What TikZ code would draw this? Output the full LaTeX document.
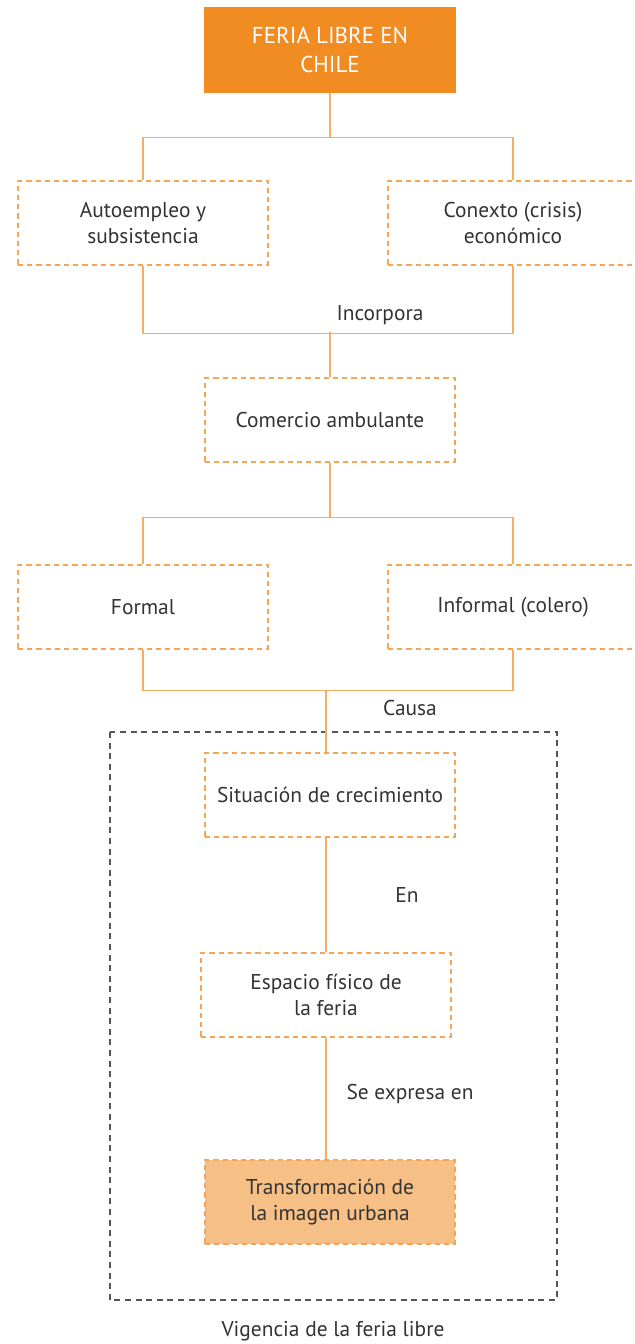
\documentclass[tikz,border=0pt]{standalone}
\usepackage{fontspec}
\setmainfont{PT Sans}
\definecolor{feriaorange}{HTML}{F18C22}
\definecolor{lineorange}{HTML}{F7AE62}
\definecolor{boxorange}{HTML}{F5A556}
\definecolor{softorange}{HTML}{F6BF86}
\definecolor{textgrey}{HTML}{333333}
\definecolor{framegrey}{HTML}{555555}

\begin{document}
\begin{tikzpicture}[x=0.5pt, y=-0.5pt,
  box/.style={draw=boxorange, dash pattern=on 2.6pt off 2pt, line width=0.7pt,
    minimum width=125pt, minimum height=42pt, inner sep=0pt, align=center,
    text=textgrey, font=\fontsize{10.7}{13}\selectfont},
  link/.style={draw=lineorange, line width=0.75pt},
  tag/.style={text=textgrey, font=\fontsize{10.7}{13}\selectfont}]
\useasboundingbox (0,0) rectangle (634,1344);
\draw[framegrey, line width=1.4pt, dash pattern=on 3pt off 2.3pt] (110,732) rectangle (557,1300);
\node[box, solid, draw=feriaorange, fill=feriaorange, text=white,
  font=\fontsize{11.5}{14.5}\selectfont] (feria) at (330,50) {FERIA LIBRE EN\\CHILE};
\node[box] (auto) at (143,223) {Autoempleo y\\subsistencia};
\node[box] (conexto) at (513,223) {Conexto (crisis)\\económico};
\node[box] (comercio) at (330,420) {Comercio ambulante};
\node[box] (formal) at (143,607) {Formal};
\node[box] (informal) at (513,607) {Informal (colero)};
\node[box] (situacion) at (330,795) {Situación de crecimiento};
\node[box] (espacio) at (326,995) {Espacio físico de\\la feria};
\node[box, fill=softorange] (transf) at (330,1202) {Transformación de\\la imagen urbana};
% labels
\node[tag] (incorpora) at (380,315) {Incorpora};
\node[tag] (causa) at (410,708) {Causa};
\node[tag] (en) at (407,895) {En};
\node[tag] (expresa) at (410,1094) {Se expresa en};
\node[tag] (vigencia) at (333,1331) {Vigencia de la feria libre};
% connectors
\draw[link] (feria.south) -- ++(0,45) -| (auto.north);
\draw[link] (feria.south) -- ++(0,45) -| (conexto.north);
\draw[link] (auto.south) -- ++(0,68) -| (conexto.south);
\draw[link] (comercio.north) -- ++(0,-45);
\draw[link] (comercio.south) -- ++(0,55) -| (formal.north);
\draw[link] (comercio.south) -- ++(0,55) -| (informal.north);
\draw[link] (formal.south) -- ++(0,41) -| (informal.south);
\draw[link] (espacio.north |- situacion.north) -- ++(0,-62);
\draw[link] (espacio.north) -- (espacio.north |- situacion.south);
\draw[link] (espacio.south) -- (espacio.south |- transf.north);
\end{tikzpicture}
\end{document}
